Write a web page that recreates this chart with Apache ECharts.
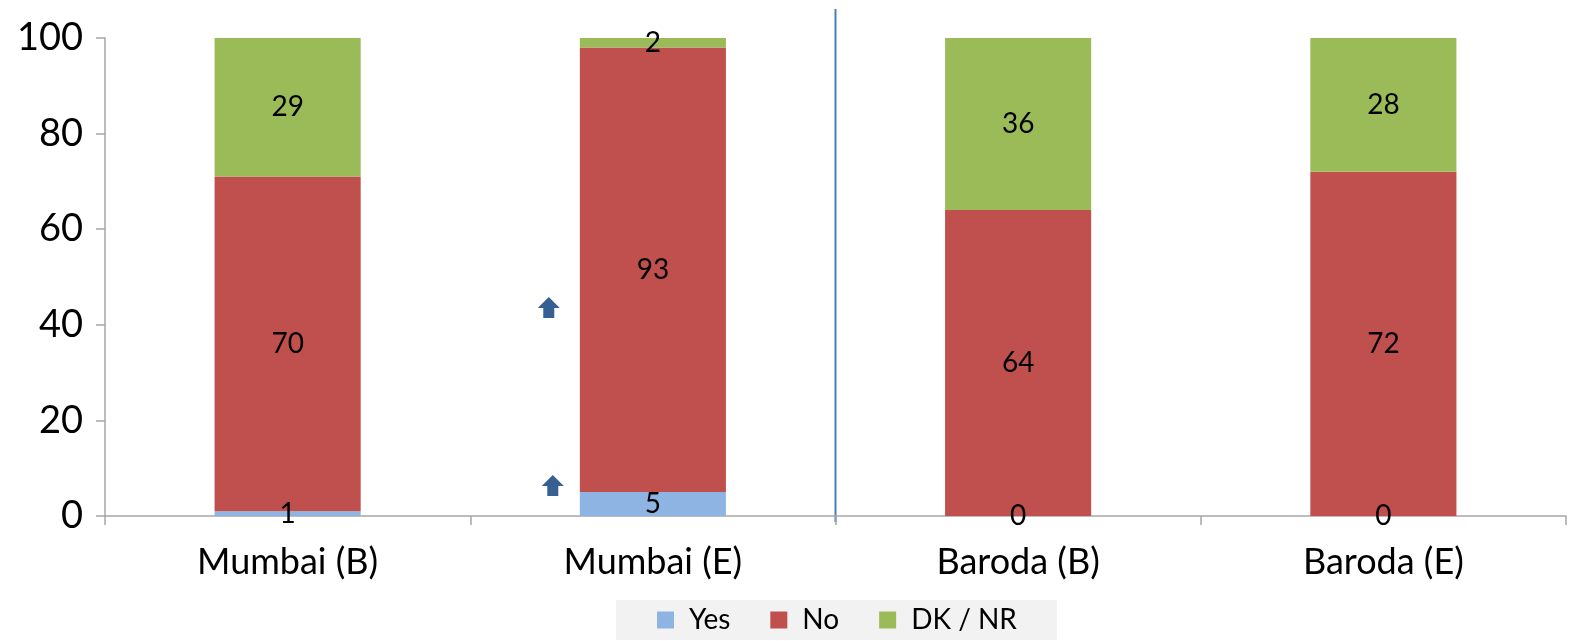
<!DOCTYPE html>
<html>
<head>
<meta charset="utf-8">
<script src="https://cdn.jsdelivr.net/npm/echarts@6/dist/echarts.min.js"></script>
<style>
  html, body { margin: 0; padding: 0; background: #fff; }
  #chart { width: 1574px; height: 641px; }
</style>
</head>
<body>
<div id="chart"></div>
<script>
// Survey responses by city and round (percent)
const categories = ['Mumbai (B)', 'Mumbai (E)', 'Baroda (B)', 'Baroda (E)'];
const yesValues = [1, 5, 0, 0];
const noValues = [70, 93, 64, 72];
const dkValues = [29, 2, 36, 28];
const yTicks = [0, 20, 40, 60, 80, 100];

// Upward arrows flagging the rise in Mumbai (category, value)
const arrowMarks = [
  { category: 'Mumbai (E)', value: 43.5 },
  { category: 'Mumbai (E)', value: 6.3 }
];

const FONT = 'Lato';
const chart = echarts.init(document.getElementById('chart'));

const labelStyle = {
  show: true,
  position: 'inside',
  color: '#000',
  fontFamily: FONT,
  fontSize: 28
};

chart.setOption({
  animation: false,
  textStyle: { fontFamily: FONT },
  grid: { left: 105, right: 8, top: 38, bottom: 125 },
  legend: {
    bottom: 1,
    left: 616,
    backgroundColor: '#f2f2f2',
    padding: [6, 40, 6, 41],
    itemGap: 40,
    itemWidth: 17,
    itemHeight: 17,
    icon: 'rect',
    textStyle: { fontFamily: FONT, fontSize: 28, color: '#000', padding: [0, 0, 0, 10] },
    data: ['Yes', 'No', 'DK / NR']
  },
  xAxis: {
    type: 'category',
    data: categories,
    axisLine: { lineStyle: { color: '#a6a6a6', width: 1.5 } },
    axisTick: { show: true, length: 9, lineStyle: { color: '#a6a6a6', width: 1.5 } },
    axisLabel: { color: '#000', fontSize: 36, fontFamily: FONT, margin: 28 }
  },
  yAxis: {
    type: 'value',
    min: yTicks[0],
    max: yTicks[yTicks.length - 1],
    interval: yTicks[1] - yTicks[0],
    splitLine: { show: false },
    axisLine: { show: true, lineStyle: { color: '#a6a6a6', width: 1.5 } },
    axisTick: { show: true, length: 9, lineStyle: { color: '#a6a6a6', width: 1.5 } },
    axisLabel: { color: '#000', fontSize: 38, fontFamily: FONT, margin: 22 }
  },
  series: [
    { name: 'Yes', type: 'bar', stack: 'total', barWidth: '40%', data: yesValues,
      itemStyle: { color: '#8eb4e3' }, label: labelStyle },
    { name: 'No', type: 'bar', stack: 'total', data: noValues,
      itemStyle: { color: '#c0504d' }, label: labelStyle },
    { name: 'DK / NR', type: 'bar', stack: 'total', data: dkValues,
      itemStyle: { color: '#9bbb59' }, label: labelStyle }
  ]
});

// Divider between Mumbai and Baroda groups, plus the arrow annotations
function drawOverlay() {
  const x1 = chart.convertToPixel({ xAxisIndex: 0 }, categories[1]);
  const x2 = chart.convertToPixel({ xAxisIndex: 0 }, categories[2]);
  const yBase = chart.convertToPixel({ yAxisIndex: 0 }, 0);
  const xDiv = (x1 + x2) / 2;
  const step = x2 - x1;
  const elements = [{
    type: 'line',
    shape: { x1: xDiv, y1: 9, x2: xDiv, y2: yBase + 6 },
    style: { stroke: '#4a7ebb', lineWidth: 2 }
  }];
  arrowMarks.forEach(function (a, i) {
    const cx = chart.convertToPixel({ xAxisIndex: 0 }, a.category) - step * (i === 0 ? 0.285 : 0.274);
    const cy = chart.convertToPixel({ yAxisIndex: 0 }, a.value);
    elements.push({
      type: 'polygon',
      shape: {
        points: [
          [cx, cy - 11], [cx + 11, cy], [cx + 5.5, cy], [cx + 5.5, cy + 10],
          [cx - 5.5, cy + 10], [cx - 5.5, cy], [cx - 11, cy]
        ]
      },
      style: { fill: '#376092' }
    });
  });
  chart.setOption({ graphic: elements });
}
drawOverlay();
</script>
</body>
</html>
